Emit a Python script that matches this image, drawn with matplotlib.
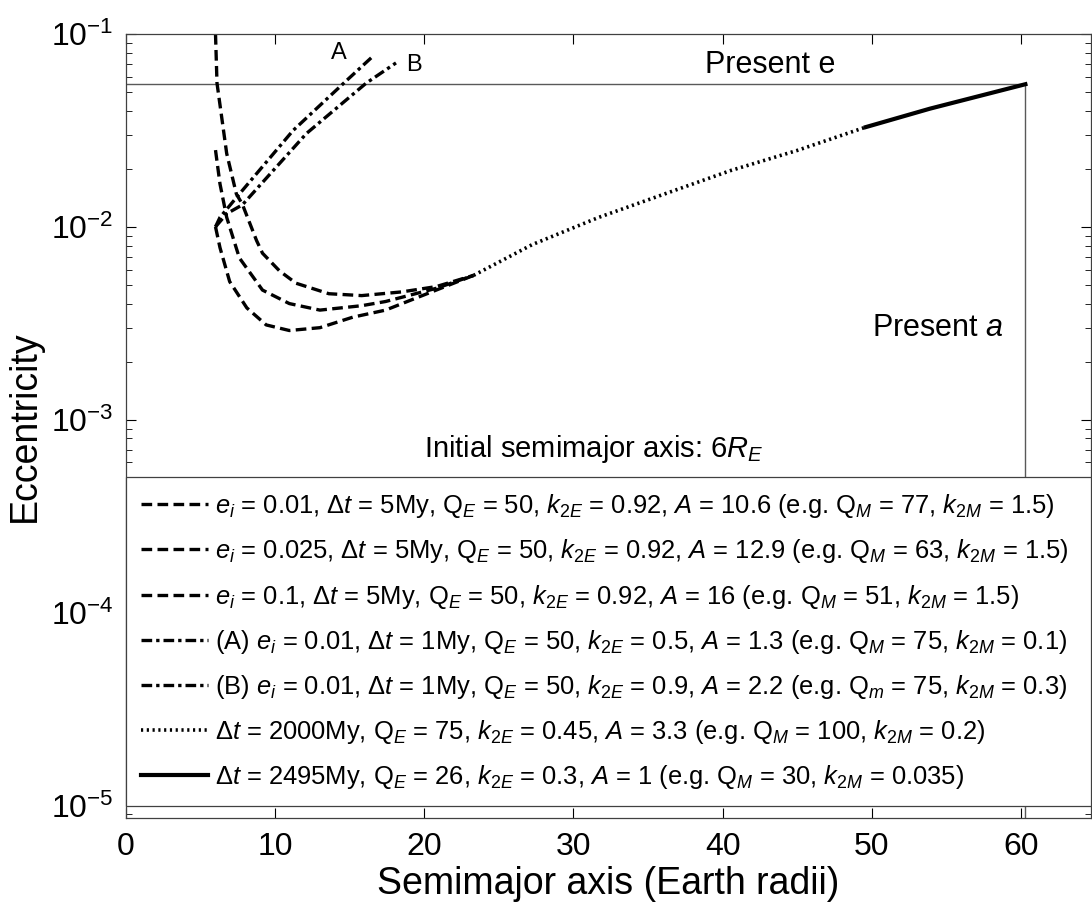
import numpy as np
import matplotlib
matplotlib.use('Agg')
import matplotlib.pyplot as plt

plt.rcParams['font.family'] = ['Liberation Sans', 'DejaVu Sans']
plt.rcParams['mathtext.fontset'] = 'custom'
plt.rcParams['mathtext.rm'] = 'Liberation Sans'
plt.rcParams['mathtext.it'] = 'Liberation Sans:italic'
plt.rcParams['mathtext.default'] = 'it'

# curves (a in Earth radii, e eccentricity)
a_e001 = [6.0, 6.3, 6.95, 8.1, 9.4, 10.95, 13.0, 15.2, 17.4, 20.8, 23.3]
e_e001 = [0.0100, 0.0078, 0.0052, 0.0038, 0.0031, 0.0029, 0.0030, 0.0034, 0.0037, 0.0047, 0.0056]

a_e0025 = [6.0, 6.3, 6.75, 7.6, 9.15, 10.95, 13.0, 15.8, 17.4, 20.8, 23.3]
e_e0025 = [0.025, 0.0167, 0.0112, 0.0069, 0.0047, 0.0040, 0.0037, 0.0039, 0.0041, 0.0048, 0.0056]

a_e01 = [6.0, 6.1, 6.75, 7.4, 7.8, 8.75, 9.15, 10.3, 11.4, 13.6, 15.8, 18.5, 20.8, 23.3]
e_e01 = [0.1, 0.0556, 0.024, 0.0148, 0.0131, 0.0085, 0.0073, 0.0059, 0.0051, 0.0045, 0.0044, 0.0046, 0.0049, 0.0056]

a_A = [6.0, 6.3, 7.6, 11.2, 14.8, 16.5]
e_A = [0.0100, 0.0112, 0.0148, 0.0316, 0.0575, 0.076]

a_B = [6.0, 6.75, 7.8, 12.1, 16.1, 18.1]
e_B = [0.0100, 0.0117, 0.0130, 0.0305, 0.0556, 0.0708]

a_2000 = [23.3, 27.25, 31.7, 36.1, 40.55, 45.0, 49.6]
e_2000 = [0.0056, 0.0081, 0.0112, 0.0148, 0.0196, 0.0249, 0.0329]

a_2495 = [49.6, 53.9, 60.3]
e_2495 = [0.0329, 0.041, 0.0549]

present_a = 60.3
present_e = 0.0549

labels = [
    r'$e_i$ = 0.01, Δ$t$ = 5My, $\mathrm{Q}_E$ = 50, $k_{2E}$ = 0.92, $A$ = 10.6 (e.g. $\mathrm{Q}_M$ = 77, $k_{2M}$ = 1.5)',
    r'$e_i$ = 0.025, Δ$t$ = 5My, $\mathrm{Q}_E$ = 50, $k_{2E}$ = 0.92, $A$ = 12.9 (e.g. $\mathrm{Q}_M$ = 63, $k_{2M}$ = 1.5)',
    r'$e_i$ = 0.1, Δ$t$ = 5My, $\mathrm{Q}_E$ = 50, $k_{2E}$ = 0.92, $A$ = 16 (e.g. $\mathrm{Q}_M$ = 51, $k_{2M}$ = 1.5)',
    r'(A) $e_i$ = 0.01, Δ$t$ = 1My, $\mathrm{Q}_E$ = 50, $k_{2E}$ = 0.5, $A$ = 1.3 (e.g. $\mathrm{Q}_M$ = 75, $k_{2M}$ = 0.1)',
    r'(B) $e_i$ = 0.01, Δ$t$ = 1My, $\mathrm{Q}_E$ = 50, $k_{2E}$ = 0.9, $A$ = 2.2 (e.g. $\mathrm{Q}_m$ = 75, $k_{2M}$ = 0.3)',
    r'Δ$t$ = 2000My, $\mathrm{Q}_E$ = 75, $k_{2E}$ = 0.45, $A$ = 3.3 (e.g. $\mathrm{Q}_M$ = 100, $k_{2M}$ = 0.2)',
    r'Δ$t$ = 2495My, $\mathrm{Q}_E$ = 26, $k_{2E}$ = 0.3, $A$ = 1 (e.g. $\mathrm{Q}_M$ = 30, $k_{2M}$ = 0.035)',
]

fig = plt.figure(figsize=(10.92, 9.09), dpi=100)
ax = fig.add_axes([0.1154, 0.1001, 0.8837, 0.8625])

# present values
ax.plot([0, present_a], [present_e, present_e], color='0.35', lw=1, zorder=1)
ax.plot([present_a, present_a], [1e-6, present_e], color='0.35', lw=1, zorder=1)

dash = (0, (3.2, 1.6))
dashdot = (0, (3.2, 1.2, 1.0, 1.2))
h1, = ax.plot(a_e001, e_e001, color='k', lw=2.4, linestyle=dash)
h2, = ax.plot(a_e0025, e_e0025, color='k', lw=2.4, linestyle=dash)
h3, = ax.plot(a_e01, e_e01, color='k', lw=2.4, linestyle=dash)
h4, = ax.plot(a_A, e_A, color='k', lw=2.4, linestyle=dashdot)
h5, = ax.plot(a_B, e_B, color='k', lw=2.4, linestyle=dashdot)
h6, = ax.plot(a_2000, e_2000, color='k', lw=2.6, linestyle=(0, (0.6, 1.0)))
h7, = ax.plot(a_2495, e_2495, color='k', lw=3.0, linestyle='-')

ax.set_yscale('log')
ax.set_xlim(0, 64.7)
ax.set_ylim(8.6e-6, 1e-1)
ax.set_xticks([0, 10, 20, 30, 40, 50, 60])
ax.tick_params(which='both', direction='in', top=True, right=True, labelsize=23)
ax.tick_params(axis='x', which='major', pad=10)
ax.tick_params(axis='y', which='major', pad=9)
ax.tick_params(which='major', length=7, width=0.8)
ax.tick_params(which='minor', length=4, width=0.6)
for s in ax.spines.values():
    s.set_linewidth(0.9)
    s.set_color('0.25')

ax.set_xlabel('Semimajor axis (Earth radii)', fontsize=27, labelpad=3)
ax.set_ylabel('Eccentricity', fontsize=27, labelpad=6)

ax.text(14.3, 0.080, 'A', fontsize=17, ha='center', va='center')
ax.text(19.3, 0.069, 'B', fontsize=17, ha='center', va='center')
ax.text(43.2, 0.069, 'Present e', fontsize=22, ha='center', va='center')
ax.text(54.4, 0.00298, r'Present $\mathit{a}$', fontsize=22, ha='center', va='center')
ax.text(20.0, 7.06e-4, r'Initial semimajor axis: 6$R_E$', fontsize=21, ha='left', va='center')

leg = ax.legend([h1, h2, h3, h4, h5, h6, h7], labels, loc='upper left',
                bbox_to_anchor=(0, 0.0128, 1, 0.4222), mode='expand', borderaxespad=0,
                fontsize=18.4, handlelength=2.6, handletextpad=0.3, labelspacing=0.67,
                borderpad=0.6, frameon=True, fancybox=False, framealpha=1)
leg.get_frame().set_edgecolor('0.25')
leg.get_frame().set_linewidth(0.9)

fig.savefig('out.png', dpi=100)
